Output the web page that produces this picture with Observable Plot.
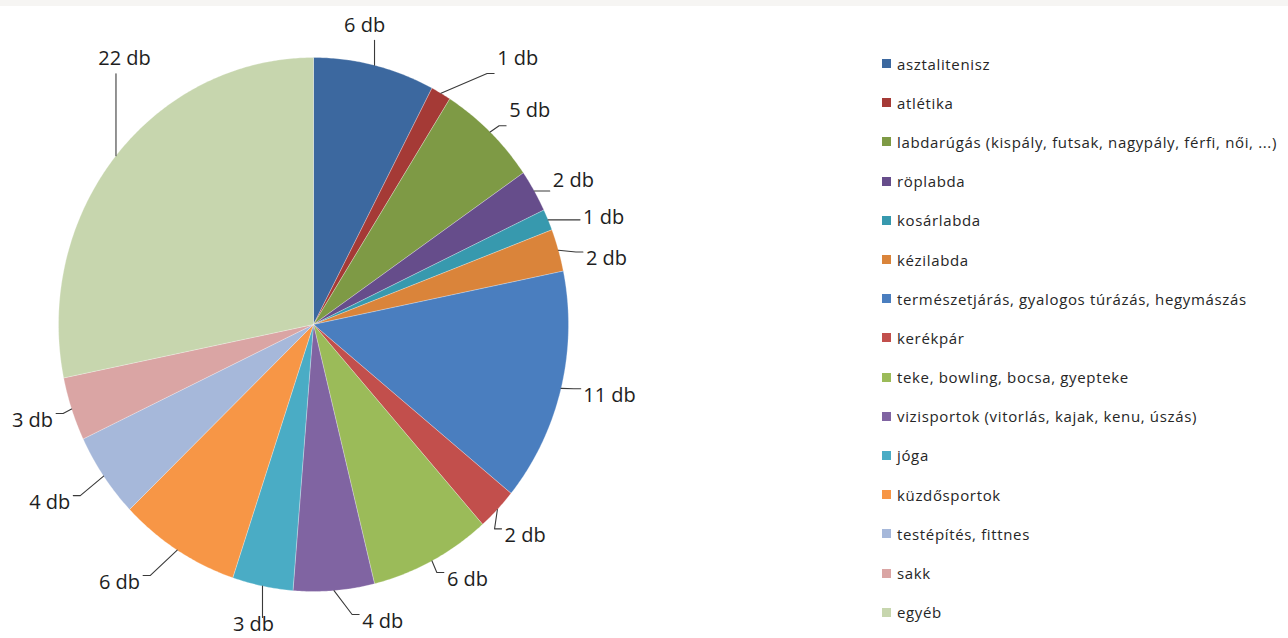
<!DOCTYPE html>
<html>
<head>
<meta charset="utf-8">
<script src="https://cdn.jsdelivr.net/npm/d3@7"></script>
<script src="https://cdn.jsdelivr.net/npm/@observablehq/plot@0.6"></script>
<style>
  html, body { margin: 0; padding: 0; background: #ffffff; }
  #wrap { position: relative; width: 1288px; height: 638px; overflow: hidden; font-family: "Open Sans", sans-serif; }
  #band { position: absolute; left: 0; top: 0; width: 1288px; height: 6px; background: #f6f5f3; }
  #chart { position: absolute; left: 0; top: 0; }
  #legend { position: absolute; left: 882px; top: 44px; }
  .row { height: 39.2px; display: flex; align-items: center; font-size: 15px; letter-spacing: 0.65px; color: #262626; white-space: nowrap; }
  .sw { width: 9px; height: 9px; margin-right: 6px; flex: none; }
</style>
</head>
<body>
<div id="wrap">
  <div id="chart"></div>
  <div id="band"></div>
  <div id="legend"></div>
</div>
<script>
// ---- data ----
const categories = [
  "asztalitenisz",
  "atlétika",
  "labdarúgás (kispály, futsak, nagypály, férfi, női, ...)",
  "röplabda",
  "kosárlabda",
  "kézilabda",
  "természetjárás, gyalogos túrázás, hegymászás",
  "kerékpár",
  "teke, bowling, bocsa, gyepteke",
  "vizisportok (vitorlás, kajak, kenu, úszás)",
  "jóga",
  "küzdősportok",
  "testépítés, fittnes",
  "sakk",
  "egyéb"
];
const values = [6, 1, 5, 2, 1, 2, 11, 2, 6, 4, 3, 6, 4, 3, 22];
const unit = "db";

// ---- styles / layout ----
const colors = [
  "#3C689F", "#A53A36", "#7E9A45", "#664D8B", "#3799AE", "#DA843A",
  "#4A7EBF", "#C24F4C", "#9BBB59", "#8064A2", "#4AACC5", "#F79646",
  "#A6B8DA", "#DAA5A4", "#C7D6AE"
];
// label placement (Excel "best fit" nudges): angle shift in degrees, radius as fraction of pie radius
const labelShift  = [-3.7, 8.8, 2.8, 2.1, 3.7, 4.1, -0.9, -0.2, -4.6, -9.1, 0.3, 5.9, 1.8, 0.4, 14.1];
const labelRadius = [1.138, 1.278, 1.166, 1.153, 1.206, 1.175, 1.191, 1.147, 1.13, 1.145, 1.148, 1.23, 1.231, 1.159, 1.241];

const xRange = [58, 568], yRange = [591, 57];
const kx = (xRange[1] - xRange[0]) / 2, ky = (yRange[0] - yRange[1]) / 2;
const fontFamily = "Open Sans";
const labelSize = 20;

// ---- geometry from data ----
const arcs = d3.pie().sort(null).value(d => d)(values);
const polys = [];
arcs.forEach((a, i) => {
  const name = categories[i];
  polys.push({name, x: 0, y: 0});
  const n = Math.max(4, Math.ceil((a.endAngle - a.startAngle) / (Math.PI / 360)));
  for (let k = 0; k <= n; k++) {
    const t = a.startAngle + (a.endAngle - a.startAngle) * k / n;
    polys.push({name, x: Math.sin(t), y: Math.cos(t)});
  }
  polys.push({name, x: 0, y: 0});
});

const labels = [];
const leaders = [];
arcs.forEach((a, i) => {
  const mid = (a.startAngle + a.endAngle) / 2;
  const la = mid + labelShift[i] * Math.PI / 180;
  const r = labelRadius[i];
  const lx = r * Math.sin(la), ly = r * Math.cos(la);
  const ex = Math.sin(mid), ey = Math.cos(mid);
  const text = `${values[i]} ${unit}`;
  labels.push({text, lx, ly});
  // closest point of the label box (pixel units, y up) to the slice edge point
  const hw = text.length * 10.3 / 2 + 3, hh = 11;
  const lpx = lx * kx, lpy = ly * ky - 4, epx = ex * kx, epy = ey * ky;
  const cpx = Math.max(lpx - hw, Math.min(lpx + hw, epx));
  const cpy = Math.max(lpy - hh, Math.min(lpy + hh, epy));
  const pts = [[epx, epy]];
  const side = (cpx === lpx - hw) ? -1 : (cpx === lpx + hw) ? 1 : 0;
  if (side !== 0) pts.push([cpx + side * 7, cpy]);
  pts.push([cpx, cpy]);
  pts.forEach(([px, py]) => leaders.push({id: i, x: px / kx, y: py / ky}));
});

const chart = Plot.plot({
  width: 860,
  height: 638,
  margin: 0,
  style: {fontFamily, background: "transparent"},
  x: {domain: [-1, 1], range: xRange, axis: null},
  y: {domain: [-1, 1], range: yRange, axis: null},
  color: {domain: categories, range: colors},
  marks: [
    Plot.line(polys, {x: "x", y: "y", z: "name", fill: "name", stroke: "white", strokeWidth: 0.6, strokeOpacity: 0.45}),
    Plot.line(leaders, {x: "x", y: "y", z: "id", stroke: "#3a3a3a", strokeWidth: 1.1}),
    Plot.text(labels, {x: "lx", y: "ly", text: "text", fontSize: labelSize, fill: "#1e1e1e"})
  ]
});
document.getElementById("chart").appendChild(chart);

// ---- legend ----
const legend = document.getElementById("legend");
categories.forEach((c, i) => {
  const row = document.createElement("div");
  row.className = "row";
  const sw = document.createElement("span");
  sw.className = "sw";
  sw.style.background = colors[i];
  const tx = document.createElement("span");
  tx.textContent = c;
  row.appendChild(sw);
  row.appendChild(tx);
  legend.appendChild(row);
});
</script>
</body>
</html>
